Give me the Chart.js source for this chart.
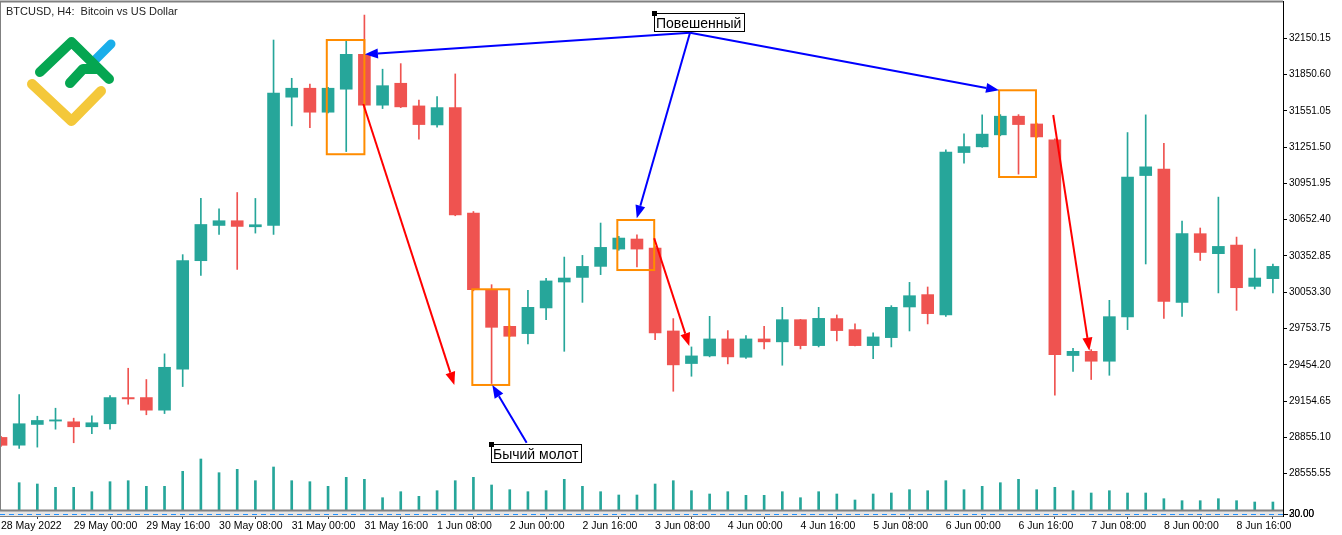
<!DOCTYPE html>
<html>
<head>
<meta charset="utf-8">
<title>BTCUSD H4</title>
<script src="https://cdn.jsdelivr.net/npm/chart.js@4.4.0/dist/chart.umd.min.js"></script>
<style>
  html, body { margin: 0; padding: 0; background: #fff; }
  canvas { display: block; }
</style>
</head>
<body>
<canvas id="chart" width="1342" height="535"></canvas>
<script>
// BTCUSD H4 candles, 28 May 08:00 .. 9 Jun 00:00
const opens = [28855, 28791, 28962, 28990, 28984, 28943, 28968, 29184, 29184, 29080,
  29418, 30314, 30605, 30644, 30594, 30605, 31664, 31738, 31540, 31730,
  32018, 31598, 31779, 31592, 31435, 31578, 30707, 30075, 29772, 29712,
  29924, 30138, 30176, 30267, 30410, 30493, 30419, 29734, 29465, 29528,
  29668, 29517, 29668, 29644, 29827, 29613, 29836, 29745, 29613, 29679,
  29932, 30034, 29866, 31207, 31254, 31353, 31507, 31443, 31312, 29531,
  29566, 29484, 29850, 31017, 31070, 29970, 30537, 30372, 30443, 30102,
  30166];
const highs = [28865, 29209, 29030, 29096, 29014, 29034, 29201, 29426, 29333, 29545,
  30364, 30828, 30743, 30877, 30828, 32136, 31820, 31773, 31745, 32128,
  32342, 31895, 31941, 31641, 31669, 31856, 30720, 30116, 29775, 30069,
  30168, 30344, 30358, 30625, 30515, 30528, 30430, 29836, 29602, 29855,
  29737, 29696, 29772, 29929, 29830, 29929, 29866, 29792, 29718, 29943,
  30135, 30097, 31229, 31361, 31518, 31520, 31520, 31450, 31320, 29591,
  29580, 29987, 31372, 31518, 31284, 30641, 30584, 30839, 30509, 30410,
  30287];
const lows = [28780, 28764, 28775, 28923, 28811, 28885, 28923, 29129, 29042, 29052,
  29275, 30193, 30531, 30242, 30542, 30531, 31427, 31413, 31535, 31215,
  31595, 31570, 31578, 31317, 31416, 30685, 30065, 29300, 29688, 29627,
  29828, 29566, 29970, 30199, 30400, 30262, 29663, 29236, 29360, 29520,
  29462, 29508, 29586, 29451, 29586, 29602, 29652, 29610, 29506, 29602,
  29734, 29792, 29855, 31120, 31250, 31345, 31029, 31330, 29203, 29399,
  29333, 29368, 29745, 30287, 29838, 29855, 30316, 30048, 29904, 30081,
  30048];
const closes = [28790, 28968, 28995, 29000, 28943, 28976, 29184, 29173, 29080, 29434,
  30314, 30613, 30644, 30597, 30611, 31697, 31738, 31540, 31738, 32018,
  31598, 31759, 31584, 31438, 31578, 30691, 30075, 29764, 29690, 29929,
  30147, 30171, 30267, 30424, 30501, 30410, 29718, 29454, 29528, 29668,
  29520, 29668, 29644, 29827, 29613, 29838, 29737, 29613, 29685, 29929,
  30025, 29877, 31210, 31256, 31359, 31507, 31438, 31336, 29539, 29566,
  29484, 29852, 31004, 31089, 29978, 30537, 30382, 30432, 30091, 30171,
  30267];
const volumes = [0, 2730, 2600, 2270, 2270, 1830, 2830, 2930, 2370, 2370,
  3870, 5100, 3730, 4070, 2930, 4300, 2930, 2830, 2370, 3270,
  3070, 1230, 1830, 1370, 1930, 2930, 3270, 2500, 2030, 1830,
  1930, 3070, 2370, 1830, 1500, 1500, 2600, 2930, 1930, 1600,
  1830, 1470, 1470, 1830, 1230, 1830, 1600, 1000, 1600, 1700,
  2030, 1930, 2930, 2030, 2370, 2730, 3070, 2030, 2270, 1930,
  1700, 1930, 1700, 1700, 1130, 930, 930, 1130, 930, 800,
  800];

// axis labels
const yTicks = [32150.15, 31850.60, 31551.05, 31251.50, 30951.95, 30652.40, 30352.85,
  30053.30, 29753.75, 29454.20, 29154.65, 28855.10, 28555.55];
const xTickIdx = [0, 4, 8, 12, 16, 20, 24, 28, 32, 36, 40, 44, 48, 52, 56, 60, 64, 68];
const xTickLabels = ['28 May 2022', '29 May 00:00', '29 May 16:00', '30 May 08:00', '31 May 00:00',
  '31 May 16:00', '1 Jun 08:00', '2 Jun 00:00', '2 Jun 16:00', '3 Jun 08:00', '4 Jun 00:00',
  '4 Jun 16:00', '5 Jun 08:00', '6 Jun 00:00', '6 Jun 16:00', '7 Jun 08:00', '8 Jun 00:00', '8 Jun 16:00'];

// annotations in chart coordinates: [candle index, price]
const boxes = [[17.93, 20.0, 32136, 31193], [25.94, 27.97, 30078, 29288],
  [33.92, 35.95, 30650, 30237], [54.93, 56.96, 31721, 31005]];
const blueArrows = [[37.92, 32196, 20.03, 32018], [37.92, 32196, 34.99, 30664],
  [37.92, 32196, 54.93, 31721], [28.93, 28811, 27.04, 29288]];
const redArrows = [[19.94, 31608, 24.95, 29288], [35.95, 30499, 37.88, 29610],
  [57.91, 31517, 59.9, 29571]];
const notes = [{ text: 'Повешенный', i: 35.94, p: 32357 }, { text: 'Бычий молот', i: 26.97, p: 28803 }];

const GREEN = '#26a69a';
const RED = '#ef5350';
const AXIS_FONT = "'Liberation Sans', Arial, sans-serif";

const candleColors = closes.map((c, i) => (c >= opens[i] ? GREEN : RED));

function arrow(ctx, x0, y0, x1, y1, color) {
  const a = Math.atan2(y1 - y0, x1 - x0);
  const len = 13, half = 5;
  const bx = x1 - len * Math.cos(a), by = y1 - len * Math.sin(a);
  ctx.strokeStyle = color;
  ctx.fillStyle = color;
  ctx.lineWidth = 2;
  ctx.beginPath();
  ctx.moveTo(x0, y0);
  ctx.lineTo(bx, by);
  ctx.stroke();
  ctx.beginPath();
  ctx.moveTo(x1, y1);
  ctx.lineTo(bx + half * Math.sin(a), by - half * Math.cos(a));
  ctx.lineTo(bx - half * Math.sin(a), by + half * Math.cos(a));
  ctx.closePath();
  ctx.fill();
}

function drawLogo(ctx) {
  ctx.save();
  ctx.lineCap = 'round';
  ctx.lineJoin = 'round';
  ctx.lineWidth = 9;
  ctx.strokeStyle = '#1aaeea';
  ctx.beginPath(); ctx.moveTo(93, 62); ctx.lineTo(111, 44); ctx.stroke();
  ctx.lineWidth = 10;
  ctx.strokeStyle = '#f4c83a';
  ctx.beginPath(); ctx.moveTo(32, 84); ctx.lineTo(71.5, 121); ctx.lineTo(101, 91); ctx.stroke();
  ctx.strokeStyle = '#05a651';
  ctx.beginPath(); ctx.moveTo(40, 72); ctx.lineTo(71.5, 42); ctx.lineTo(109, 79); ctx.stroke();
  ctx.beginPath(); ctx.moveTo(70, 83); ctx.lineTo(83, 69); ctx.lineTo(97, 69); ctx.stroke();
  ctx.restore();
}

const overlay = {
  id: 'overlay',
  beforeDatasetsDraw(chart) {
    const ctx = chart.ctx;
    drawLogo(ctx);
    ctx.save();
    ctx.fillStyle = '#222';
    ctx.font = '11px ' + AXIS_FONT;
    ctx.textBaseline = 'alphabetic';
    ctx.fillText('BTCUSD, H4:  Bitcoin vs US Dollar', 6, 15);
    ctx.restore();
  },
  afterDatasetsDraw(chart) {
    const ctx = chart.ctx, xs = chart.scales.x, ys = chart.scales.y;
    ctx.save();
    ctx.strokeStyle = '#ff8c00';
    ctx.lineWidth = 2;
    boxes.forEach(b => {
      const x0 = xs.getPixelForValue(b[0]), x1 = xs.getPixelForValue(b[1]);
      const y0 = ys.getPixelForValue(b[2]), y1 = ys.getPixelForValue(b[3]);
      ctx.strokeRect(x0, y0, x1 - x0, y1 - y0);
    });
    redArrows.forEach(a => arrow(ctx, xs.getPixelForValue(a[0]), ys.getPixelForValue(a[1]),
      xs.getPixelForValue(a[2]), ys.getPixelForValue(a[3]), '#ff0000'));
    blueArrows.forEach(a => arrow(ctx, xs.getPixelForValue(a[0]), ys.getPixelForValue(a[1]),
      xs.getPixelForValue(a[2]), ys.getPixelForValue(a[3]), '#0000ff'));
    // text labels with anchor square
    ctx.font = "14px 'Liberation Sans', Arial, sans-serif";
    ctx.textBaseline = 'alphabetic';
    notes.forEach(n => {
      const x = Math.round(xs.getPixelForValue(n.i)), y = Math.round(ys.getPixelForValue(n.p));
      const w = Math.ceil(ctx.measureText(n.text).width) + 4;
      ctx.fillStyle = '#fff';
      ctx.fillRect(x, y, w, 18);
      ctx.strokeStyle = '#000';
      ctx.lineWidth = 1;
      ctx.strokeRect(x + 0.5, y + 0.5, w, 18);
      ctx.fillStyle = '#000';
      ctx.fillText(n.text, x + 2, y + 14.5);
      ctx.fillRect(x - 2, y - 2, 5, 5);
    });
    ctx.restore();
  },
  afterDraw(chart) {
    const ctx = chart.ctx, area = chart.chartArea;
    ctx.save();
    // frame
    ctx.strokeStyle = '#808080';
    ctx.lineWidth = 2;
    ctx.beginPath(); ctx.moveTo(0, 1.5); ctx.lineTo(area.right, 1.5); ctx.stroke();
    ctx.lineWidth = 1;
    ctx.beginPath(); ctx.moveTo(0.5, 1); ctx.lineTo(0.5, area.bottom); ctx.stroke();
    // separator strip of the empty sub-window
    ctx.fillStyle = '#e6e6e6';
    ctx.fillRect(0, area.bottom, area.right, 6);
    ctx.fillStyle = '#808080';
    ctx.fillRect(0, area.bottom - 0.5, area.right, 2);
    ctx.fillRect(0, area.bottom + 6, area.right, 1);
    ctx.strokeStyle = '#1e90ff';
    ctx.setLineDash([5, 4]);
    ctx.beginPath(); ctx.moveTo(0, area.bottom + 4.5); ctx.lineTo(area.right, area.bottom + 4.5); ctx.stroke();
    ctx.setLineDash([]);
    // right border down to the bottom
    ctx.strokeStyle = '#000';
    ctx.beginPath(); ctx.moveTo(area.right + 0.5, 1); ctx.lineTo(area.right + 0.5, area.bottom + 7); ctx.stroke();
    ctx.beginPath(); ctx.moveTo(area.right, area.bottom + 4.5); ctx.lineTo(area.right + 5, area.bottom + 4.5); ctx.stroke();
    ctx.fillStyle = '#000';
    ctx.font = '10px ' + AXIS_FONT;
    ctx.textBaseline = 'middle';
    ctx.fillText('30.00', area.right + 6, area.bottom + 4.5);
    ctx.fillText('20.00', area.right + 6, area.bottom + 4.5);
    ctx.restore();
  }
};

new Chart(document.getElementById('chart'), {
  type: 'bar',
  data: {
    datasets: [
      {
        label: 'body',
        data: opens.map((o, i) => ({ x: i, y: [o, closes[i]] })),
        backgroundColor: candleColors,
        barThickness: 12,
        minBarLength: 1,
        grouped: false,
        order: 0
      },
      {
        label: 'wick',
        data: lows.map((l, i) => ({ x: i, y: [l, highs[i]] })),
        backgroundColor: candleColors,
        barThickness: 1,
        grouped: false,
        order: 1
      },
      {
        label: 'volume',
        data: volumes.map((v, i) => ({ x: i, y: v })),
        backgroundColor: GREEN,
        barThickness: 2,
        grouped: false,
        yAxisID: 'yVol',
        order: 2
      }
    ]
  },
  options: {
    responsive: false,
    animation: false,
    devicePixelRatio: 1,
    layout: { padding: { left: 1, top: 3, right: 0, bottom: 0 } },
    plugins: { legend: { display: false }, tooltip: { enabled: false } },
    scales: {
      x: {
        type: 'linear',
        min: 0,
        max: 70.556,
        offset: false,
        position: 'bottom',
        afterBuildTicks: s => { s.ticks = xTickIdx.map(v => ({ value: v })); },
        afterFit: s => { s.height = 25; s.paddingLeft = 0; s.paddingRight = 0; },
        grid: { drawOnChartArea: false, drawTicks: true, tickLength: 9, color: '#444' },
        border: { display: true, color: '#808080' },
        ticks: {
          autoSkip: false, maxRotation: 0, align: 'start', padding: 1, color: '#000',
          font: { family: AXIS_FONT, size: 10.5 },
          callback: (v, idx) => xTickLabels[idx]
        }
      },
      y: {
        position: 'right',
        min: 28255.8,
        max: 32441.6,
        afterBuildTicks: s => { s.ticks = yTicks.map(v => ({ value: v })); },
        afterFit: s => { s.width = 59; s.paddingTop = 0; s.paddingBottom = 0; },
        grid: { drawOnChartArea: false, drawTicks: true, tickLength: 4, color: '#000' },
        border: { display: true, color: '#000' },
        ticks: {
          padding: 2, color: '#000',
          font: { family: AXIS_FONT, size: 10 },
          callback: v => v.toFixed(2)
        }
      },
      yVol: { axis: 'y', position: 'left', display: false, min: 0, max: 50700 }
    }
  },
  plugins: [overlay]
});
</script>
</body>
</html>
